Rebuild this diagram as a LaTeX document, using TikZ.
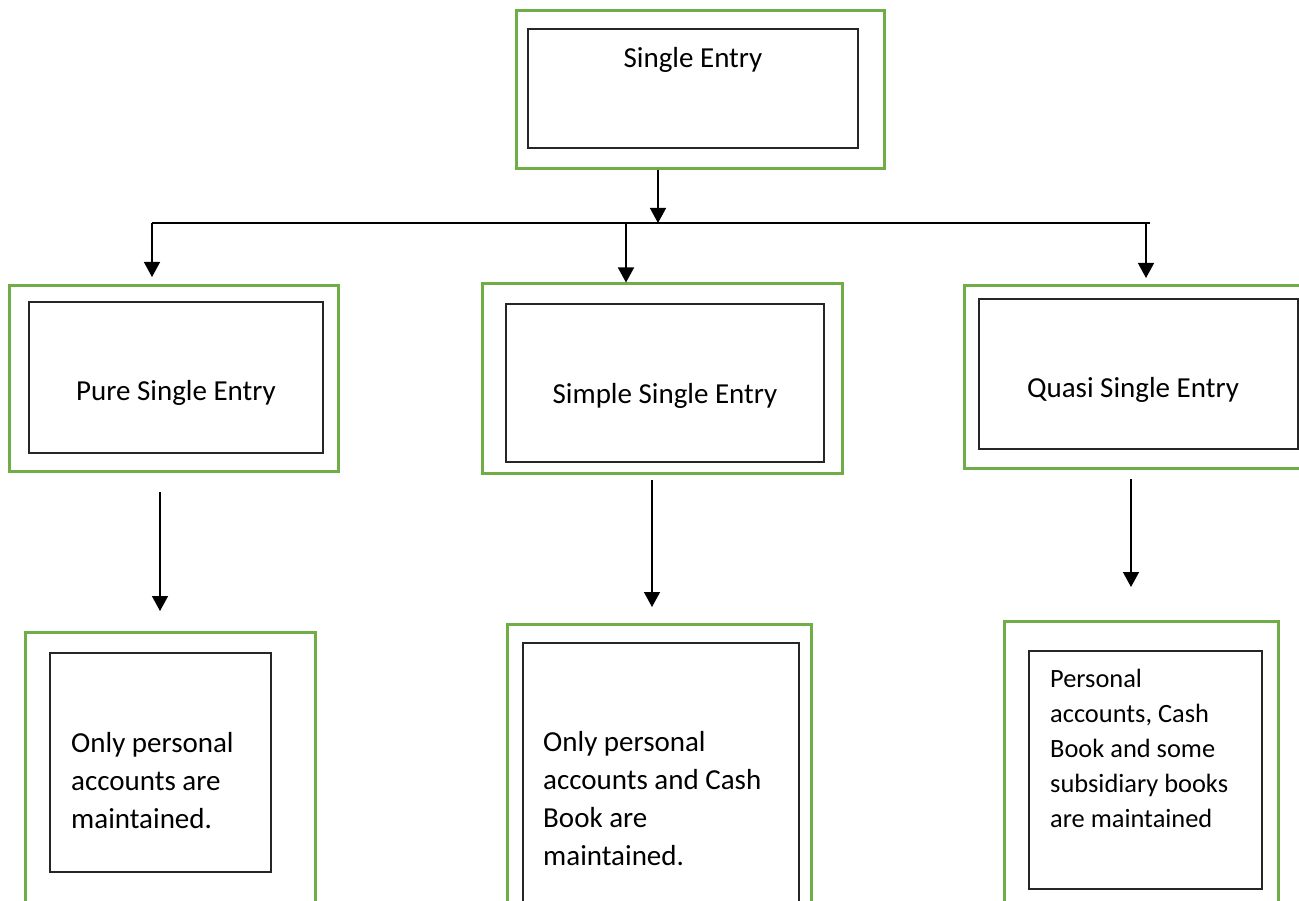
\documentclass[tikz,border=0pt]{standalone}
\usepackage{fontspec}
\setmainfont{Carlito}
\usetikzlibrary{arrows.meta,fit}
\definecolor{gboxc}{HTML}{70AD47}
\begin{document}
\begin{tikzpicture}[x=1pt,y=-1pt,
  outerbox/.style={draw=gboxc,line width=3pt,inner sep=0pt,fit={#1}},
  innerbox/.style={draw=black!85,line width=1.3pt,inner sep=0pt,fit={#1}},
  lbl/.style={anchor=base,inner sep=0pt,font=\fontsize{29}{35}\selectfont},
  bodytext/.style={anchor=north west,inner sep=0pt,align=left,font=\fontsize{29}{38}\selectfont},
  smalltext/.style={anchor=north west,inner sep=0pt,align=left,font=\fontsize{26.4}{35}\selectfont},
  arr/.style={-{Triangle[width=16pt,length=15pt]},line width=1.5pt},
  plainline/.style={line width=1.5pt}]
\useasboundingbox (0,0) rectangle (1299,901);
\clip (0,0) rectangle (1299,901);
\fill[white] (0,0) rectangle (1299,901);

% top
\node[outerbox={(516,11) (884,169)}] (topO) {};
\node[innerbox={(528,29) (858,148)}] (topI) {};
\node[lbl] (topT) at (693,68) {Single Entry};

% second level
\node[outerbox={(9,286) (338,471)}] (pureO) {};
\node[innerbox={(29,302) (323,453)}] (pureI) {};
\node[lbl] (pureT) at (176,400) {Pure Single Entry};

\node[outerbox={(482,284) (842,473)}] (simO) {};
\node[innerbox={(506,304) (824,462)}] (simI) {};
\node[lbl] (simT) at (665,403) {Simple Single Entry};

\node[outerbox={(964,286) (1310,468)}] (quaO) {};
\node[innerbox={(979,299) (1298,449)}] (quaI) {};
\node[lbl] (quaT) at (1133,398) {Quasi Single Entry};

% third level
\node[outerbox={(25,632) (315,920)}] (pbO) {};
\node[innerbox={(50,653) (271,872)}] (pbI) {};
\node[bodytext] (pbT) at (71,732.4) {Only personal\\accounts are\\maintained.};

\node[outerbox={(507,624) (811,920)}] (sbO) {};
\node[innerbox={(523,643) (799,920)}] (sbI) {};
\node[bodytext] (sbT) at (543,731.4) {Only personal\\accounts and Cash\\Book are\\maintained.};

\node[outerbox={(1004,621) (1278,920)}] (qbO) {};
\node[innerbox={(1029,651) (1262,889)}] (qbI) {};
\node[smalltext] (qbT) at (1050,669.3) {Personal\\accounts, Cash\\Book and some\\subsidiary books\\are maintained};

% connectors
\coordinate (junc) at (658,223);
\coordinate (hl) at (152,223);
\coordinate (hr) at (1150,223);
\coordinate (hm) at (626,223);
\coordinate (hq) at (1146,223);
\draw[arr] (topO.south -| junc) -- (junc);
\draw[plainline] (hl) -- (hr);
\draw[arr,shorten >=7.5pt] (hl) -- (hl |- pureO.north);
\draw[arr] (hm) -- (hm |- simO.north);
\draw[arr,shorten >=6.5pt] (hq) -- (hq |- quaO.north);

\coordinate (pl) at (160,492);
\coordinate (sl) at (652,480);
\coordinate (ql) at (1131,479);
\draw[arr,shorten >=19.5pt] (pl) -- (pl |- pbO.north);
\draw[arr,shorten >=15.5pt] (sl) -- (sl |- sbO.north);
\draw[arr,shorten >=32.5pt] (ql) -- (ql |- qbO.north);
\end{tikzpicture}
\end{document}
